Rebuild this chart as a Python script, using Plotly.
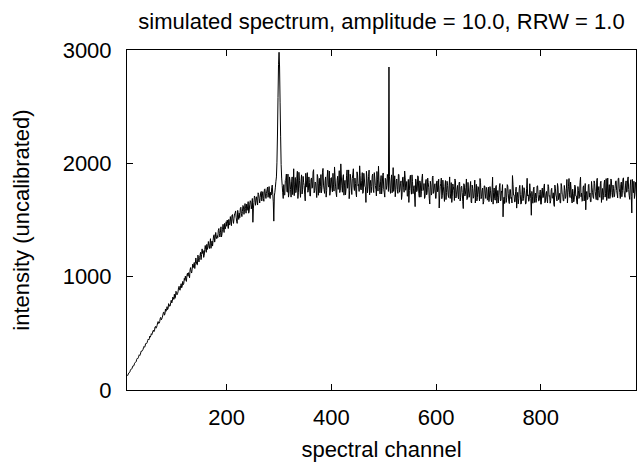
import plotly.graph_objects as go

# Spectral intensity readings.  Even channels (10, 12, ...) and odd channels
# (11, 13, ...) are kept as separate lists and interleaved below.
even_rise_low = [124, 142, 153, 175, 184, 203, 212, 236, 245, 270, 276, 299, 305, 334, 341,
                 357, 384, 386, 412, 419, 448, 451, 466, 497, 499]
odd_rise_low = [130, 151, 160, 183, 190, 214, 219, 243, 250, 279, 284, 311, 313, 345, 347,
                372, 377, 409, 410, 437, 441, 475, 478, 489, 520]

even_rise_mid = [528, 522, 561, 553, 592, 587, 604, 641, 628, 662, 689, 671, 694, 735, 718,
                 751, 742, 792, 781, 812, 845, 818, 862, 849, 903, 884, 921, 902, 958, 940]
odd_rise_mid = [515, 556, 545, 571, 604, 590, 632, 619, 640, 683, 660, 715, 701, 709, 762,
                739, 771, 768, 820, 799, 808, 871, 840, 866, 915, 880, 938, 917, 929, 985]

even_rise_high = [968, 975, 1012, 1004, 1018, 1060, 1048, 1066, 1080, 1125, 1116, 1130, 1105,
                  1162, 1170, 1215, 1195, 1205, 1170, 1238, 1240, 1285, 1262, 1275, 1290,
                  1250, 1315, 1320, 1370, 1340, 1352, 1362, 1410, 1382, 1392, 1350, 1418,
                  1420, 1470, 1438]
odd_rise_high = [1005, 958, 1030, 1035, 990, 1080, 1032, 1110, 1102, 1072, 1165, 1108, 1190,
                 1130, 1185, 1150, 1245, 1230, 1188, 1275, 1215, 1240, 1310, 1248, 1335,
                 1290, 1270, 1362, 1305, 1390, 1335, 1345, 1425, 1350, 1440, 1378, 1462,
                 1390, 1420, 1485]

even_knee_peak = [1445, 1470, 1505, 1462, 1490, 1540, 1500, 1515, 1560, 1525, 1470, 1548,
                  1560, 1600, 1558, 1575, 1620, 1590, 1600, 1640, 1615, 1560, 1640, 1660,
                  1632, 1480, 1655, 1700, 1668, 1672, 1740, 1690, 1700, 1752, 1712, 1690,
                  1768, 1720, 1735, 1790, 1740, 1702, 1745, 1785, 1725, 1490, 1745, 1842,
                  2010, 2580, 2980, 2540, 1990, 1805, 1690]
odd_knee_peak = [1500, 1425, 1455, 1530, 1450, 1548, 1470, 1555, 1580, 1490, 1585, 1505,
                 1520, 1612, 1530, 1628, 1550, 1645, 1560, 1585, 1662, 1580, 1670, 1598,
                 1690, 1605, 1712, 1630, 1705, 1632, 1725, 1650, 1745, 1668, 1750, 1665,
                 1775, 1690, 1768, 1700, 1795, 1690, 1720, 1808, 1660, 1712, 1790, 1880,
                 2250, 2870, 2850, 2240, 1870, 1740, 1812]

even_plateau_a = [1722, 1848, 1905, 1745, 1702, 1880, 1768, 1836, 1724, 1952, 1810, 1741,
                  1868, 1690, 1921, 1775, 1842, 1730, 1885, 1804, 1669, 1851, 1918, 1760,
                  1832, 1712, 1871, 1790, 1944, 1758, 1825, 1698, 1880, 1822, 1740, 1901,
                  1785, 1955, 1769, 1845, 1702, 1878, 1811, 1932, 1756]
odd_plateau_a = [1720, 1860, 1752, 1905, 1735, 1842, 1702, 1880, 1790, 1715, 1875, 1760,
                 1930, 1745, 1850, 1700, 1898, 1772, 1832, 1728, 1912, 1790, 1745, 1880,
                 1712, 1858, 1780, 1925, 1740, 1835, 1762, 1902, 1718, 1868, 1795, 1740,
                 1922, 1808, 1735, 1880, 1760, 1940, 1790, 1718, 1870]

even_plateau_b = [1874, 1748, 1810, 1968, 1792, 1705, 1886, 1835, 1742, 1995, 1801, 1873,
                  1719, 1850, 1776, 1942, 1830, 1688, 1904, 1791, 1866, 1952, 1760, 1822,
                  1703, 1897, 1814, 1978, 1772, 1850, 1735, 1912, 1798, 1655, 1868, 1792,
                  1940, 1818, 1741, 1889, 1766, 1918, 1804, 1712, 1860, 1975, 1788, 1843,
                  1730, 1892, 1769, 1702, 1855, 1806, 1880, 2850, 1775, 1844, 1740]
odd_plateau_b = [1780, 1912, 1755, 1880, 1738, 1850, 1770, 1935, 1762, 1888, 1745, 1900,
                 1808, 1722, 1895, 1780, 1942, 1758, 1862, 1725, 1905, 1790, 1870, 1740,
                 1925, 1802, 1752, 1890, 1765, 1918, 1748, 1862, 1790, 1930, 1740, 1882,
                 1722, 1850, 1795, 1905, 1742, 1870, 1772, 1928, 1755, 1845, 1730, 1892,
                 1778, 1915, 1740, 1868, 1770, 1902, 1752, 1880, 1735, 1898, 1772]

even_plateau_c = [1962, 1790, 1705, 1851, 1768, 1902, 1745, 1820, 1681, 1874, 1790, 1932,
                  1762, 1840, 1712, 1655, 1865, 1776, 1898, 1732, 1803, 1618, 1842, 1760,
                  1879, 1701, 1828, 1749, 1906, 1768, 1690, 1835, 1722, 1870, 1784, 1641,
                  1810, 1736, 1888, 1752, 1820, 1690, 1845, 1772, 1606, 1798, 1870, 1715,
                  1792, 1664, 1848, 1742, 1805, 1698, 1880, 1731, 1655, 1818, 1760, 1862,
                  1694, 1772, 1710, 1829, 1668, 1790, 1742, 1601, 1808, 1725, 1862, 1688,
                  1765, 1712, 1840, 1650, 1778, 1703, 1852, 1741, 1668, 1795, 1724, 1866,
                  1688, 1760, 1640, 1802, 1730, 1788, 1675]
odd_plateau_c = [1752, 1890, 1770, 1862, 1735, 1902, 1768, 1845, 1722, 1880, 1745, 1872,
                 1790, 1710, 1858, 1760, 1895, 1728, 1840, 1780, 1712, 1862, 1750, 1890,
                 1735, 1845, 1702, 1868, 1760, 1822, 1705, 1858, 1742, 1830, 1690, 1842,
                 1720, 1875, 1735, 1808, 1692, 1835, 1748, 1860, 1712, 1820, 1688, 1852,
                 1730, 1795, 1680, 1842, 1722, 1808, 1690, 1830, 1710, 1795, 1672, 1848,
                 1722, 1805, 1685, 1835, 1700, 1798, 1665, 1820, 1712, 1785, 1680, 1832,
                 1700, 1790, 1658, 1808, 1692, 1775, 1650, 1815, 1698, 1790, 1668, 1828,
                 1705, 1782, 1662, 1800, 1690, 1765, 1680]

even_plateau_d = [1790, 1702, 1758, 1661, 1878, 1742, 1690, 1795, 1648, 1760, 1718, 1822,
                  1675, 1745, 1528, 1702, 1780, 1655, 1812, 1731, 1645, 1768, 1700, 1892,
                  1721, 1660, 1752, 1605, 1744, 1688, 1806, 1640, 1728, 1670, 1785, 1712,
                  1650, 1868, 1722, 1680, 1745, 1542, 1708, 1772, 1655, 1738, 1690, 1802,
                  1668, 1725, 1640, 1748, 1696, 1790, 1652, 1730, 1682, 1812, 1710, 1648,
                  1765, 1692, 1740, 1620, 1775, 1702, 1822, 1680, 1735, 1651, 1792, 1725,
                  1668, 1760, 1705, 1858, 1741, 1866, 1698, 1772, 1650, 1735, 1680, 1798,
                  1712, 1640, 1760, 1705, 1878, 1738, 1670, 1802, 1728, 1590, 1752, 1690,
                  1815, 1738, 1660, 1790, 1702, 1845, 1752, 1680, 1868, 1760, 1712, 1825,
                  1655, 1778, 1718, 1852, 1735, 1672, 1870, 1765, 1690, 1862, 1742, 1808,
                  1702, 1780, 1846, 1728, 1866, 1781, 1690, 1835, 1758, 1872, 1722, 1808,
                  1745, 1860, 1770, 1682, 1855, 1562, 1790, 1842, 1725, 1801]
odd_plateau_d = [1662, 1795, 1690, 1768, 1640, 1782, 1675, 1805, 1700, 1650, 1790, 1668,
                 1755, 1812, 1680, 1645, 1775, 1700, 1800, 1662, 1770, 1690, 1650, 1815,
                 1722, 1660, 1790, 1700, 1642, 1780, 1722, 1650, 1805, 1690, 1762, 1640,
                 1780, 1712, 1665, 1820, 1690, 1752, 1648, 1790, 1705, 1655, 1800, 1722,
                 1672, 1765, 1640, 1782, 1700, 1818, 1668, 1752, 1650, 1795, 1715, 1672,
                 1780, 1695, 1640, 1808, 1720, 1668, 1790, 1702, 1652, 1822, 1728, 1670,
                 1805, 1690, 1775, 1650, 1798, 1722, 1835, 1680, 1772, 1660, 1808, 1712,
                 1650, 1795, 1690, 1830, 1705, 1665, 1790, 1668, 1822, 1730, 1680, 1808,
                 1702, 1662, 1840, 1740, 1690, 1822, 1712, 1850, 1675, 1795, 1700, 1842,
                 1728, 1680, 1818, 1702, 1865, 1740, 1690, 1812, 1710, 1852, 1700, 1780,
                 1708, 1842, 1760, 1695, 1870, 1742, 1812, 1705, 1860, 1760, 1700, 1845,
                 1752, 1880, 1715, 1808, 1705, 1858, 1740, 1690, 1832, 1740]

even_channels = (even_rise_low + even_rise_mid + even_rise_high + even_knee_peak
                 + even_plateau_a + even_plateau_b + even_plateau_c + even_plateau_d)
odd_channels = (odd_rise_low + odd_rise_mid + odd_rise_high + odd_knee_peak
                + odd_plateau_a + odd_plateau_b + odd_plateau_c + odd_plateau_d)

intensity = []
for e_val, o_val in zip(even_channels, odd_channels):
    intensity.extend([e_val, o_val])

first_channel = 10
channels = [first_channel + i for i in range(len(intensity))]

x_ticks = [200, 400, 600, 800]
y_ticks = [0, 1000, 2000, 3000]

FONT = "Liberation Sans, Arial, Helvetica, sans-serif"

fig = go.Figure(
    go.Scatter(
        x=channels, y=intensity, mode="lines",
        line=dict(color="black", width=1, simplify=False),
        hoverinfo="x+y",
    )
)

axis_common = dict(
    showline=True, linecolor="black", linewidth=1, mirror="ticks",
    ticks="inside", ticklen=6, tickcolor="black", tickwidth=1,
    showgrid=False, zeroline=False,
    tickfont=dict(family=FONT, size=22, color="black"),
)

fig.update_layout(
    width=637, height=462,
    margin=dict(l=127, r=1, t=50, b=72),
    paper_bgcolor="white", plot_bgcolor="white",
    showlegend=False,
    font=dict(family=FONT, size=22, color="black"),
    title=dict(
        text="simulated spectrum, amplitude = 10.0, RRW = 1.0",
        x=0.5, xref="paper", xanchor="center",
        y=1 - 21 / 462, yref="container", yanchor="middle",
        font=dict(family=FONT, size=22, color="black"),
    ),
    xaxis=dict(
        range=[9.5, 982], tickvals=x_ticks, ticktext=[str(v) for v in x_ticks],
        ticklabelstandoff=8,
        title=dict(text="spectral channel", standoff=12,
                   font=dict(family=FONT, size=22, color="black")),
        **axis_common,
    ),
    yaxis=dict(
        range=[0, 3000], tickvals=y_ticks, ticktext=[str(v) for v in y_ticks],
        ticklabelstandoff=10,
        title=dict(text="intensity (uncalibrated)", standoff=26,
                   font=dict(family=FONT, size=22, color="black")),
        **axis_common,
    ),
)

fig.write_html(
    "out.html",
    config={"displayModeBar": False},
    post_script="document.body.style.margin='0';document.body.style.overflow='hidden';",
)
